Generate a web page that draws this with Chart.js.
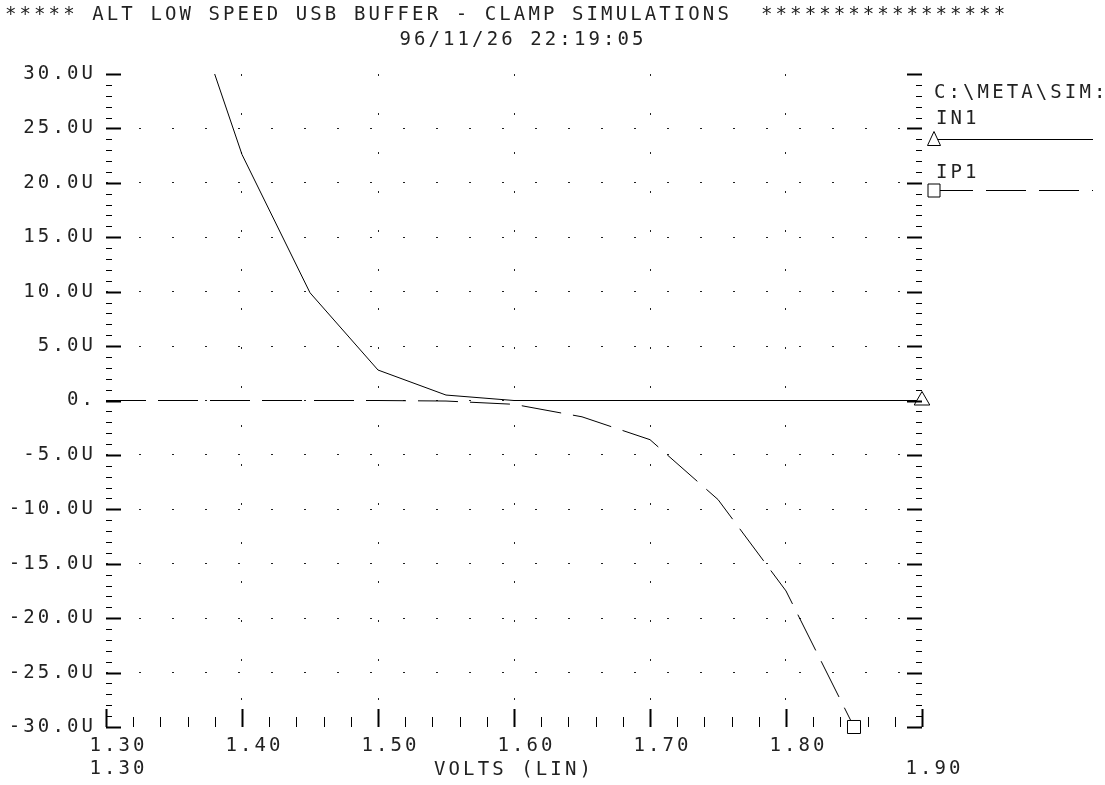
<!DOCTYPE html>
<html>
<head>
<meta charset="utf-8">
<title>ALT low speed USB buffer - clamp simulations</title>
<script src="https://cdn.jsdelivr.net/npm/chart.js@4.4.1/dist/chart.umd.min.js"></script>
<style>
  html, body { margin: 0; padding: 0; background: #fff; }
  canvas { display: block; }
</style>
</head>
<body>
<canvas id="plot" width="1105" height="785"></canvas>
<script>
// sweep voltage (V) and the two clamp currents (uA)
const volts = [1.30, 1.35, 1.40, 1.45, 1.50, 1.55, 1.60, 1.65, 1.70, 1.75, 1.80, 1.85, 1.90];
const in1 = [null, 41, 22.6, 9.9, 2.8, 0.5, 0, 0, 0, 0, 0, 0, 0];
const ip1 = [0, 0, 0, 0, 0, -0.05, -0.35, -1.5, -3.6, -9.1, -17.5, -30, null];

const seriesNames = ["IN1", "IP1"];
const titleText = "***** ALT LOW SPEED USB BUFFER - CLAMP SIMULATIONS  *****************";
const dateText = "96/11/26 22:19:05";
const fileText = "C:\\META\\SIM:";
const xAxisTitle = "VOLTS (LIN)";
const xRange = [1.30, 1.90];
const yRange = [-30, 30];

const MONO = "'DejaVu Sans Mono', monospace";
const SPACING = "3.1px";
const INK = "#222";
const FONT = { family: MONO, size: 19, weight: "normal", lineHeight: 1.2 };

function near(a, b) {
  return Math.abs(a - b) < 1e-6;
}

function yLabel(v) {
  if (near(v, 0)) return "0.";
  return v.toFixed(1) + "U";
}

function xLabel(v) {
  const s = v.toFixed(2);
  // the range ends are repeated on the second row
  if (near(v, xRange[0])) return [s, xRange[0].toFixed(2)];
  if (near(v, xRange[1])) return ["", xRange[1].toFixed(2)];
  return s;
}

function lastIndex(arr) {
  for (let i = arr.length - 1; i >= 0; i--) if (arr[i] !== null) return i;
  return -1;
}

// plotter-style letter spacing for all canvas text
const spacing = {
  id: "spacing",
  beforeLayout(chart) { chart.ctx.letterSpacing = SPACING; },
  beforeDraw(chart) { chart.ctx.letterSpacing = SPACING; }
};

// inward tick marks on left, right and bottom edges
const tickMarks = {
  id: "tickMarks",
  afterDraw(chart) {
    const { ctx, chartArea: a, scales: { x, y } } = chart;
    ctx.save();
    ctx.strokeStyle = "#000";
    [false, true].forEach(major => {
      ctx.beginPath();
      ctx.lineWidth = major ? 2 : 1;
      for (let v = yRange[0]; v <= yRange[1]; v++) {
        if ((v % 5 === 0) !== major) continue;
        const py = Math.round(y.getPixelForValue(v)) + 0.5;
        const len = major ? 15 : 6;
        ctx.moveTo(a.left, py); ctx.lineTo(a.left + len, py);
        ctx.moveTo(a.right - len, py); ctx.lineTo(a.right, py);
      }
      for (let i = 0; i <= 30; i++) {
        if ((i % 5 === 0) !== major) continue;
        const px = Math.round(x.getPixelForValue(xRange[0] + i * 0.02)) + 0.5;
        const len = major ? 18 : 10;
        ctx.moveTo(px, a.bottom); ctx.lineTo(px, a.bottom - len);
      }
      ctx.stroke();
    });
    ctx.restore();
  }
};

// legend block to the right of the plot
const sideLegend = {
  id: "sideLegend",
  afterDraw(chart) {
    const { ctx, chartArea: a } = chart;
    const mx = a.right + 12;
    const end = a.right + 171;
    ctx.save();
    ctx.letterSpacing = SPACING;
    ctx.fillStyle = INK;
    ctx.strokeStyle = "#000";
    ctx.lineWidth = 1;
    ctx.font = "19px " + MONO;
    ctx.textAlign = "left";
    ctx.textBaseline = "middle";
    ctx.fillText(fileText, a.right + 12, a.top + 19);
    ctx.fillText(seriesNames[0], a.right + 14, a.top + 45);
    ctx.fillText(seriesNames[1], a.right + 14, a.top + 99);

    // IN1 sample: solid line + triangle
    let ly = a.top + 65.5;
    ctx.beginPath();
    ctx.moveTo(mx, ly); ctx.lineTo(end, ly);
    ctx.stroke();
    ctx.beginPath();
    ctx.moveTo(mx, ly - 8); ctx.lineTo(mx + 6.5, ly + 6); ctx.lineTo(mx - 6.5, ly + 6); ctx.closePath();
    ctx.fillStyle = "#fff"; ctx.fill(); ctx.stroke();

    // IP1 sample: dashed line + square
    ly = a.top + 116.5;
    ctx.beginPath();
    ctx.setLineDash([40, 13]);
    ctx.lineDashOffset = 7;
    ctx.moveTo(mx + 6, ly); ctx.lineTo(end, ly);
    ctx.stroke();
    ctx.setLineDash([]);
    ctx.beginPath();
    ctx.rect(mx - 6, ly - 6.5, 12, 13);
    ctx.fill(); ctx.stroke();
    ctx.restore();
  }
};

const last1 = lastIndex(in1);
const last2 = lastIndex(ip1);

new Chart(document.getElementById("plot"), {
  type: "line",
  data: {
    datasets: [
      {
        label: seriesNames[0],
        data: volts.map((v, i) => ({ x: v, y: in1[i] })),
        borderColor: "#000",
        borderWidth: 1,
        tension: 0,
        fill: false,
        pointStyle: "triangle",
        pointRadius: c => (c.dataIndex === last1 ? 9 : 0),
        pointBackgroundColor: "#fff",
        pointBorderColor: "#000",
        pointBorderWidth: 1,
        clip: { left: 0, top: 0, right: 14, bottom: 14 }
      },
      {
        label: seriesNames[1],
        data: volts.map((v, i) => ({ x: v, y: ip1[i] })),
        borderColor: "#000",
        borderWidth: 1,
        borderDash: [40, 12],
        tension: 0,
        fill: false,
        pointStyle: "rect",
        pointRadius: c => (c.dataIndex === last2 ? 9.2 : 0),
        pointBackgroundColor: "#fff",
        pointBorderColor: "#000",
        pointBorderWidth: 1,
        clip: { left: 0, top: 0, right: 14, bottom: 14 }
      }
    ]
  },
  options: {
    responsive: false,
    devicePixelRatio: 1,
    animation: false,
    events: [],
    layout: { padding: { left: 5, right: 64, top: 0, bottom: 0 } },
    plugins: {
      legend: { display: false },
      tooltip: { enabled: false },
      title: {
        display: true,
        text: titleText,
        align: "start",
        color: INK,
        font: FONT,
        padding: { top: 4, bottom: 0 }
      },
      subtitle: {
        display: true,
        text: dateText,
        align: "center",
        color: INK,
        font: FONT,
        padding: { top: 2, bottom: 22.4 }
      }
    },
    scales: {
      x: {
        type: "linear",
        min: xRange[0],
        max: xRange[1],
        afterFit: s => { s.height = 58; },
        border: { display: false, dash: [2, 37] },
        grid: {
          drawTicks: false,
          color: c => (c.tick && (near(c.tick.value, xRange[0]) || near(c.tick.value, xRange[1])) ? "rgba(0,0,0,0)" : "#222")
        },
        ticks: {
          stepSize: 0.1,
          autoSkip: false,
          maxRotation: 0,
          minRotation: 0,
          padding: 7.5,
          labelOffset: 12.5,
          color: INK,
          font: FONT,
          callback: v => xLabel(v)
        },
        title: {
          display: true,
          text: xAxisTitle,
          color: INK,
          font: FONT,
          padding: { top: 0, bottom: 4 }
        }
      },
      y: {
        type: "linear",
        min: yRange[0],
        max: yRange[1],
        afterFit: s => { s.width = 101; },
        border: { display: false, dash: [2, 31] },
        grid: {
          drawTicks: false,
          color: c => (c.tick && Math.abs(c.tick.value) === 30 ? "rgba(0,0,0,0)" : "#222")
        },
        ticks: {
          stepSize: 5,
          padding: 10,
          color: INK,
          font: FONT,
          callback: v => yLabel(v)
        }
      },
      side: {
        type: "linear",
        position: "right",
        afterFit: s => { s.width = 119; },
        border: { display: false },
        grid: { display: false },
        ticks: { display: false }
      }
    }
  },
  plugins: [spacing, tickMarks, sideLegend]
});
</script>
</body>
</html>
